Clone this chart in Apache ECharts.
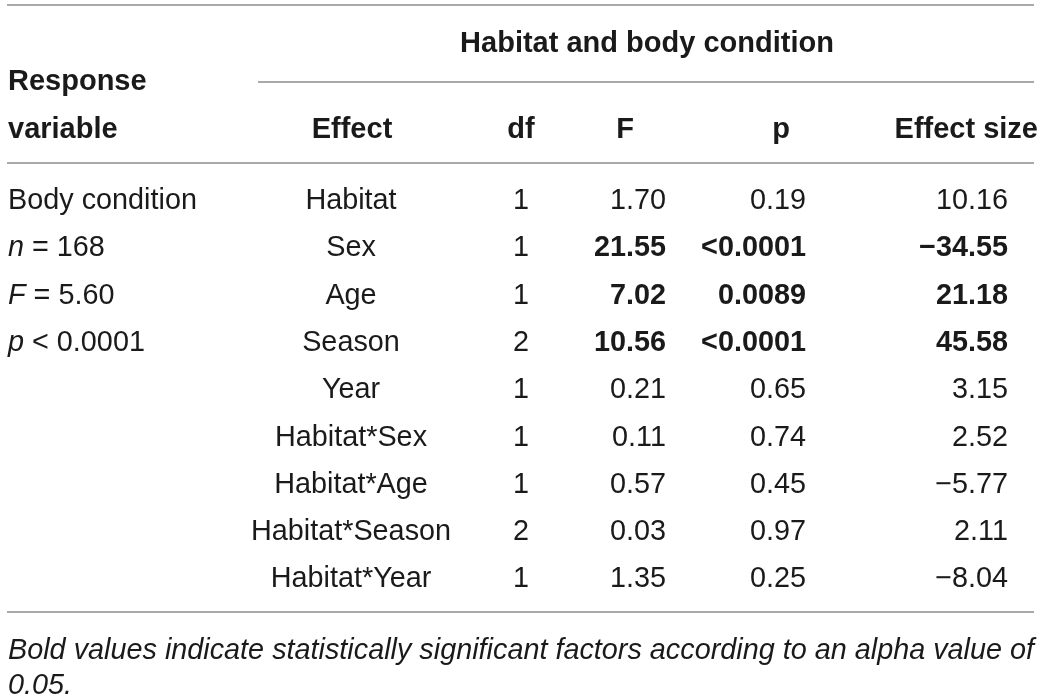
<!DOCTYPE html>
<html lang="en">
<head>
    <meta charset="UTF-8">
    <title>Habitat and body condition</title>
    <script src="https://cdn.jsdelivr.net/npm/echarts@6/dist/echarts.min.js"></script>
    <style>
        html, body { margin: 0; padding: 0; background: #fff; }
        #chart { width: 1044px; height: 694px; }
    </style>
</head>
<body>
    <div id="chart"></div>
    <script>
        // table data
        const effects = ['Habitat', 'Sex', 'Age', 'Season', 'Year', 'Habitat*Sex', 'Habitat*Age', 'Habitat*Season', 'Habitat*Year'];
        const dfValues = [1, 1, 1, 2, 1, 1, 1, 2, 1];
        const fValues = ['1.70', '21.55', '7.02', '10.56', '0.21', '0.11', '0.57', '0.03', '1.35'];
        const pValues = ['0.19', '<0.0001', '0.0089', '<0.0001', '0.65', '0.74', '0.45', '0.97', '0.25'];
        const effectSizes = ['10.16', '\u221234.55', '21.18', '45.58', '3.15', '2.52', '\u22125.77', '2.11', '\u22128.04'];
        const significant = [false, true, true, true, false, false, false, false, false];
        // response variable column (italic symbol, rest)
        const responseLines = [['', 'Body condition'], ['n', ' = 168'], ['F', ' = 5.60'], ['p', ' < 0.0001']];

        const FONT = '"Liberation Sans", Arial, sans-serif';
        const TXT = '#1a1a1a';
        const SIZE = 28.8;

        // column anchors in px (layout only)
        const col = { resp: 8, effect: 351, df: 521, f: 666, p: 806, es: 1008 };

        function cellSeries(name, x, align, texts, boldFlags) {
            return {
                name: name,
                type: 'scatter',
                symbolSize: 0,
                silent: true,
                data: texts.map((t, i) => ({
                    value: [x, i],
                    label: {
                        formatter: String(t),
                        fontWeight: boldFlags && boldFlags[i] ? 'bold' : 'normal'
                    }
                })),
                label: {
                    show: true,
                    position: 'inside',
                    align: align,
                    verticalAlign: 'middle',
                    fontFamily: FONT,
                    fontSize: SIZE,
                    color: TXT,
                    opacity: 1,
                    textBorderWidth: 0
                }
            };
        }

        const respSeries = {
            name: 'response',
            type: 'scatter',
            symbolSize: 0,
            silent: true,
            data: responseLines.map((r, i) => ({
                value: [col.resp, i],
                label: { formatter: (r[0] ? '{it|' + r[0] + '}' : '') + '{n|' + r[1] + '}' }
            })),
            label: {
                show: true,
                position: 'inside',
                align: 'left',
                verticalAlign: 'middle',
                opacity: 1,
                textBorderWidth: 0,
                rich: {
                    it: { fontFamily: FONT, fontSize: SIZE, fontStyle: 'italic', color: TXT },
                    n: { fontFamily: FONT, fontSize: SIZE, color: TXT }
                }
            }
        };

        const lineStyle = { stroke: '#8c8c8c', lineWidth: 1.5 };
        const hdr = { fontFamily: FONT, fontSize: 29, fontWeight: 'bold', fill: TXT };
        function header(text, x, y, align) {
            return { type: 'text', x: x, y: y, style: Object.assign({ text: text, align: align, verticalAlign: 'middle' }, hdr) };
        }
        function hline(x1, x2, y) {
            return { type: 'line', shape: { x1: x1, y1: y, x2: x2, y2: y }, style: lineStyle };
        }

        const chart = echarts.init(document.getElementById('chart'));
        chart.setOption({
            animation: false,
            grid: { left: 0, right: 0, top: 177.5, height: 425.7 },
            xAxis: { type: 'value', min: 0, max: 1044, show: false },
            yAxis: { type: 'category', data: effects, inverse: true, show: false },
            series: [
                respSeries,
                cellSeries('effect', col.effect, 'center', effects),
                cellSeries('df', col.df, 'center', dfValues),
                cellSeries('F', col.f, 'right', fValues, significant),
                cellSeries('p', col.p, 'right', pValues, significant),
                cellSeries('effect size', col.es, 'right', effectSizes, significant)
            ],
            graphic: [
                hline(7, 1034, 5),
                header('Habitat and body condition', 647, 44, 'center'),
                hline(258, 1034, 82),
                header('Response', 8, 82, 'left'),
                header('variable', 8, 130, 'left'),
                header('Effect', 352, 130, 'center'),
                header('df', 521, 130, 'center'),
                header('F', 625, 130, 'center'),
                header('p', 781, 130, 'center'),
                header('Effect size', 1038, 130, 'right'),
                hline(7, 1034, 163),
                hline(7, 1034, 612),
                {
                    type: 'text', x: 8, y: 651,
                    style: { text: 'Bold values indicate statistically significant factors according to an alpha value of',
                        fontFamily: FONT, fontSize: 28.8, fontStyle: 'italic', fill: TXT, verticalAlign: 'middle' }
                },
                {
                    type: 'text', x: 8, y: 686,
                    style: { text: '0.05.', fontFamily: FONT, fontSize: 28.8, fontStyle: 'italic', fill: TXT, verticalAlign: 'middle' }
                }
            ]
        });
    </script>
</body>
</html>
